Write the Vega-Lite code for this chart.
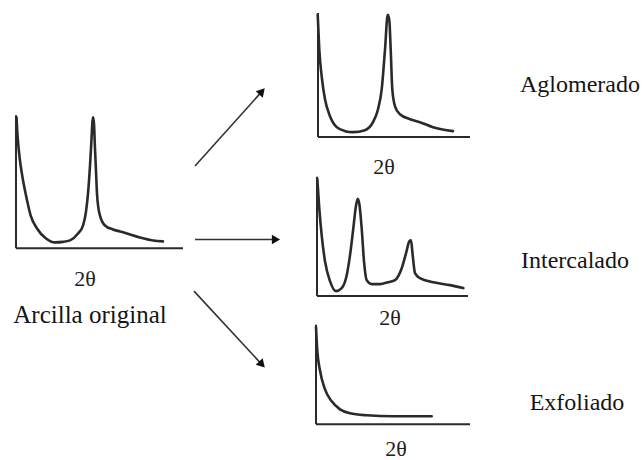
{
  "$schema": "https://vega.github.io/schema/vega-lite/v6.json",
  "width": 643,
  "height": 460,
  "autosize": {"type": "fit", "contains": "padding"},
  "padding": 0,
  "background": "white",
  "config": {"view": {"stroke": null}, "text": {"font": "'Liberation Serif', 'DejaVu Serif', serif"}},
  "datasets": {
    "curves": [
      {"s":"orig","x":16.5,"y":118},{"s":"orig","x":17.3,"y":133},{"s":"orig","x":18.7,"y":150},{"s":"orig","x":20.7,"y":167},{"s":"orig","x":23.3,"y":183},{"s":"orig","x":26.7,"y":200},{"s":"orig","x":30.7,"y":217},{"s":"orig","x":37,"y":230},{"s":"orig","x":46,"y":240},{"s":"orig","x":55,"y":244},{"s":"orig","x":63,"y":243.5},{"s":"orig","x":70,"y":242},{"s":"orig","x":78,"y":235},{"s":"orig","x":83,"y":227},{"s":"orig","x":86,"y":213},{"s":"orig","x":88,"y":195},{"s":"orig","x":90,"y":167},{"s":"orig","x":91.5,"y":140},{"s":"orig","x":92.5,"y":122},{"s":"orig","x":93.2,"y":118},{"s":"orig","x":94,"y":125},{"s":"orig","x":95,"y":150},{"s":"orig","x":96,"y":172},{"s":"orig","x":97,"y":195},{"s":"orig","x":98.5,"y":210},{"s":"orig","x":100,"y":217},{"s":"orig","x":105,"y":227},{"s":"orig","x":113,"y":231},{"s":"orig","x":120,"y":233},{"s":"orig","x":127,"y":235},{"s":"orig","x":140,"y":239},{"s":"orig","x":153,"y":242},{"s":"orig","x":163,"y":243},
      {"s":"aglo","x":317.7,"y":15},{"s":"aglo","x":319.3,"y":50},{"s":"aglo","x":321.7,"y":77},{"s":"aglo","x":325,"y":100},{"s":"aglo","x":330,"y":117},{"s":"aglo","x":336.7,"y":128},{"s":"aglo","x":345,"y":132},{"s":"aglo","x":353,"y":133},{"s":"aglo","x":365,"y":131},{"s":"aglo","x":373,"y":123},{"s":"aglo","x":378,"y":110},{"s":"aglo","x":381.7,"y":90},{"s":"aglo","x":385,"y":50},{"s":"aglo","x":387.7,"y":15},{"s":"aglo","x":389.3,"y":20},{"s":"aglo","x":390.7,"y":50},{"s":"aglo","x":392.3,"y":90},{"s":"aglo","x":395,"y":107},{"s":"aglo","x":400,"y":115},{"s":"aglo","x":410,"y":120},{"s":"aglo","x":420,"y":123},{"s":"aglo","x":433,"y":128},{"s":"aglo","x":453,"y":132},
      {"s":"inter","x":317.3,"y":180},{"s":"inter","x":319.3,"y":210},{"s":"inter","x":321.7,"y":237},{"s":"inter","x":325,"y":263},{"s":"inter","x":330,"y":283},{"s":"inter","x":336,"y":293},{"s":"inter","x":341.7,"y":290},{"s":"inter","x":346.7,"y":277},{"s":"inter","x":350,"y":257},{"s":"inter","x":353.3,"y":230},{"s":"inter","x":356,"y":207},{"s":"inter","x":357.7,"y":200},{"s":"inter","x":359.3,"y":205},{"s":"inter","x":361.7,"y":230},{"s":"inter","x":364,"y":263},{"s":"inter","x":366.7,"y":282},{"s":"inter","x":371.7,"y":286},{"s":"inter","x":380,"y":286},{"s":"inter","x":388.3,"y":284},{"s":"inter","x":395,"y":282},{"s":"inter","x":401.7,"y":270},{"s":"inter","x":406,"y":255},{"s":"inter","x":409.3,"y":243},{"s":"inter","x":411,"y":242},{"s":"inter","x":412.7,"y":257},{"s":"inter","x":415,"y":275},{"s":"inter","x":420,"y":280},{"s":"inter","x":433.3,"y":284},{"s":"inter","x":450,"y":287},{"s":"inter","x":463.3,"y":290},
      {"s":"exfo","x":316,"y":329.3},{"s":"exfo","x":317.3,"y":353},{"s":"exfo","x":320,"y":373},{"s":"exfo","x":325,"y":392},{"s":"exfo","x":331.7,"y":404},{"s":"exfo","x":340,"y":412},{"s":"exfo","x":350,"y":416},{"s":"exfo","x":366.7,"y":418},{"s":"exfo","x":393.3,"y":419},{"s":"exfo","x":431.7,"y":419}
    ],
    "axes": [
      {"x":16,"y":116,"x2":16,"y2":250},{"x":16,"y":250,"x2":183,"y2":250},
      {"x":318,"y":13,"x2":318,"y2":138},{"x":318,"y":138,"x2":470,"y2":138},
      {"x":317,"y":178,"x2":317,"y2":298},{"x":317,"y":298,"x2":468,"y2":298},
      {"x":316,"y":327,"x2":316,"y2":427},{"x":316,"y":427,"x2":470,"y2":427}
    ],
    "arrows": [
      {"x":195,"y":167,"x2":262,"y2":92},
      {"x":195,"y":241,"x2":276,"y2":241},
      {"x":194,"y":293,"x2":262,"y2":367}
    ],
    "heads": [
      {"x":262,"y":92,"angle":42},
      {"x":276,"y":241,"angle":90},
      {"x":262,"y":367,"angle":137}
    ],
    "labels": [
      {"t":"Aglomerado","x":580,"y":93},
      {"t":"Intercalado","x":575,"y":270},
      {"t":"Exfoliado","x":577,"y":413}
    ],
    "main": [
      {"t":"Arcilla original","x":90,"y":325}
    ],
    "thetas": [
      {"t":"2θ","x":85,"y":288},
      {"t":"2θ","x":384,"y":175},
      {"t":"2θ","x":390,"y":327},
      {"t":"2θ","x":396,"y":459}
    ]
  },
  "encoding": {
    "x": {"field": "x", "type": "quantitative", "scale": {"domain": [0, 643], "nice": false, "zero": false}, "axis": null},
    "y": {"field": "y", "type": "quantitative", "scale": {"domain": [460, 0], "nice": false, "zero": false}, "axis": null}
  },
  "layer": [
    {
      "data": {"name": "axes"},
      "mark": {"type": "rule", "color": "#2a2a2a", "strokeWidth": 2},
      "encoding": {"x2": {"field": "x2"}, "y2": {"field": "y2"}}
    },
    {
      "data": {"name": "curves"},
      "mark": {"type": "line", "color": "#2a2a2a", "strokeWidth": 2.6, "interpolate": "monotone", "strokeCap": "round", "strokeJoin": "round"},
      "encoding": {"detail": {"field": "s"}, "order": {"field": "x", "type": "quantitative"}}
    },
    {
      "data": {"name": "arrows"},
      "mark": {"type": "rule", "color": "#333333", "strokeWidth": 1.6},
      "encoding": {"x2": {"field": "x2"}, "y2": {"field": "y2"}}
    },
    {
      "data": {"name": "heads"},
      "mark": {"type": "point", "shape": "triangle-up", "filled": true, "color": "#111111", "size": 90, "opacity": 1},
      "encoding": {"angle": {"field": "angle", "type": "quantitative", "scale": null}}
    },
    {
      "data": {"name": "labels"},
      "mark": {"type": "text", "font": "'Liberation Serif', 'DejaVu Serif', serif", "fontSize": 24, "color": "#151515", "align": "center", "baseline": "alphabetic"},
      "encoding": {"text": {"field": "t"}}
    },
    {
      "data": {"name": "main"},
      "mark": {"type": "text", "font": "'Liberation Serif', 'DejaVu Serif', serif", "fontSize": 25, "color": "#151515", "align": "center", "baseline": "alphabetic"},
      "encoding": {"text": {"field": "t"}}
    },
    {
      "data": {"name": "thetas"},
      "mark": {"type": "text", "font": "'Liberation Serif', 'DejaVu Serif', serif", "fontSize": 22, "color": "#222222", "align": "center", "baseline": "alphabetic"},
      "encoding": {"text": {"field": "t"}}
    }
  ]
}
